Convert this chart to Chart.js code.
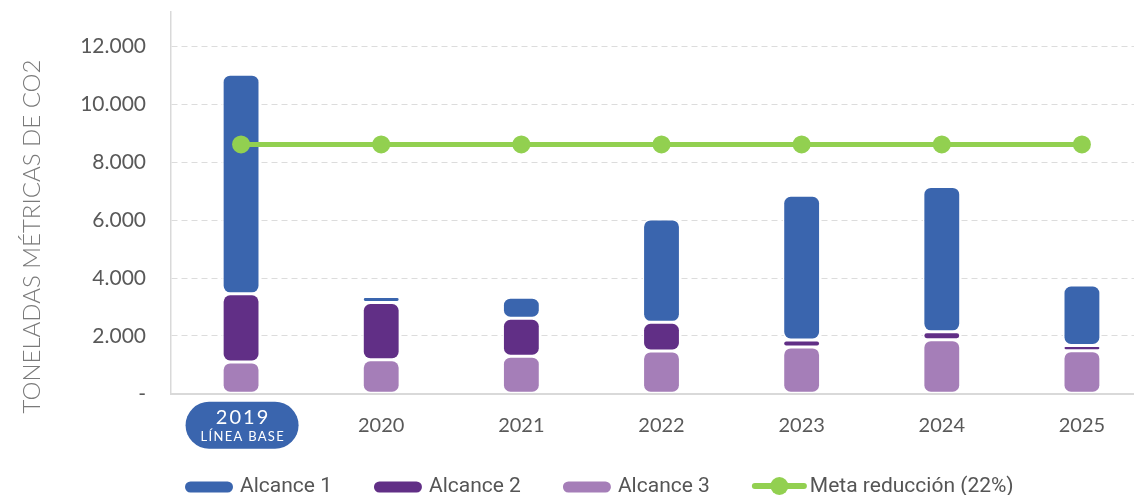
<!DOCTYPE html>
<html>
<head>
<meta charset="utf-8">
<script src="https://cdn.jsdelivr.net/npm/chart.js@4"></script>
<style>
html,body{margin:0;padding:0;overflow:hidden;background:#fff}
#wrap{position:relative;width:1161px;height:495px}
</style>
</head>
<body>
<div id="wrap"><canvas id="c"></canvas></div>
<script>
const categories = ['2019','2020','2021','2022','2023','2024','2025'];
const alcance1 = [7595, 205, 730, 3575, 5000, 5030, 2090];
const alcance2 = [2355, 1980, 1310, 990, 240, 270, 180];
const alcance3 = [1100, 1175, 1300, 1480, 1620, 1870, 1490];
const metaReduccion = [8620, 8620, 8620, 8620, 8620, 8620, 8620];
const yTickValues = [0, 2000, 4000, 6000, 8000, 10000, 12000];
const seriesLabels = ['Alcance 1', 'Alcance 2', 'Alcance 3', 'Meta reducción (22%)'];
const baseYearLabel = 'LÍNEA BASE';
const yTitle = 'TONELADAS MÉTRICAS DE CO2';

const COLORS = { a1: '#3A65AE', a2: '#612F86', a3: '#A57EB8', meta: '#92D050' };

// floating ranges built from the series arrays (each segment rounded on its own)
const a3Range = alcance3.map(v => [0, v]);
const a2Range = alcance2.map((v, i) => [alcance3[i], alcance3[i] + v]);
const a1Range = alcance1.map((v, i) => [alcance3[i] + alcance2[i], alcance3[i] + alcance2[i] + v]);

const barCommon = {
  type: 'bar', grouped: false, borderSkipped: false, borderRadius: 8,
  borderWidth: 1.5, borderColor: '#ffffff', categoryPercentage: 0.27, barPercentage: 1, order: 1
};

const fmt = v => v === 0 ? '-' : String(v).replace(/\B(?=(\d{3})+(?!\d))/g, '.');

const decor = {
  id: 'decor',
  afterDraw(chart) {
    const ctx = chart.ctx;
    const xs = chart.scales.x;
    const ca = chart.chartArea;
    ctx.save();
    // base-year pill label
    const cx = xs.getPixelForTick(0) + 1;
    const cy = ca.bottom + 31.5, w = 113, h = 47;
    ctx.fillStyle = COLORS.a1;
    ctx.beginPath(); ctx.roundRect(cx - w / 2, cy - h / 2, w, h, h / 2); ctx.fill();
    ctx.fillStyle = '#ffffff'; ctx.textAlign = 'center'; ctx.textBaseline = 'middle';
    ctx.letterSpacing = '2px';
    ctx.font = '400 20px Lato';
    ctx.fillText(categories[0], cx + 1, cy - 8);
    ctx.letterSpacing = '1.3px';
    ctx.font = '400 13px Lato';
    ctx.fillText(baseYearLabel, cx + 0.7, cy + 12);
    ctx.letterSpacing = '0px';
    ctx.restore();

    // y axis title
    ctx.save();
    ctx.translate(32, 236.5);
    ctx.rotate(-Math.PI / 2);
    ctx.font = '300 24px Lato';
    ctx.fillStyle = '#7A7A7A';
    ctx.textAlign = 'center'; ctx.textBaseline = 'middle';
    ctx.fillText(yTitle, 0, 0);
    ctx.restore();

    // legend
    ctx.save();
    let lx = 185; const ly = 487;
    ctx.font = '400 21px Roboto';
    ctx.textAlign = 'left'; ctx.textBaseline = 'middle';
    chart.data.datasets.forEach(ds => {
      let sw, gap;
      if (ds.type === 'line') {
        sw = 55; gap = 3;
        ctx.strokeStyle = ds.borderColor; ctx.lineWidth = 6; ctx.lineCap = 'round';
        ctx.beginPath(); ctx.moveTo(lx + 3, ly - 1); ctx.lineTo(lx + sw - 3, ly - 1); ctx.stroke();
        ctx.fillStyle = ds.pointBackgroundColor;
        ctx.beginPath(); ctx.arc(lx + sw / 2, ly - 1, 9, 0, Math.PI * 2); ctx.fill();
      } else {
        sw = 48; gap = 7;
        ctx.fillStyle = ds.backgroundColor;
        ctx.beginPath(); ctx.roundRect(lx, ly - 5.5, sw, 11, 5.5); ctx.fill();
      }
      ctx.fillStyle = '#555555';
      ctx.fillText(ds.label, lx + sw + gap, ly);
      lx += sw + gap + ctx.measureText(ds.label).width + 42;
    });
    ctx.restore();
  }
};

Chart.defaults.font.family = 'Lato';

new Chart(document.getElementById('c'), {
  type: 'bar',
  data: {
    labels: categories,
    datasets: [
      Object.assign({ label: seriesLabels[0], data: a1Range, backgroundColor: COLORS.a1 }, barCommon),
      Object.assign({ label: seriesLabels[1], data: a2Range, backgroundColor: COLORS.a2 }, barCommon),
      Object.assign({ label: seriesLabels[2], data: a3Range, backgroundColor: COLORS.a3 }, barCommon),
      {
        type: 'line', label: seriesLabels[3], data: metaReduccion,
        borderColor: COLORS.meta, backgroundColor: COLORS.meta, borderWidth: 5,
        pointRadius: 9, pointHoverRadius: 9, pointBackgroundColor: COLORS.meta, pointBorderWidth: 0,
        tension: 0, order: 0
      }
    ]
  },
  options: {
    responsive: true, maintainAspectRatio: false, animation: false,
    layout: { padding: { top: 12, left: 0, right: 0, bottom: 0 } },
    plugins: { legend: { display: false }, tooltip: { enabled: false } },
    scales: {
      x: {
        grid: { display: false },
        border: { display: true, color: '#D9D9D9', width: 2 },
        ticks: {
          color: '#595959', font: { size: 20, family: 'Lato' }, padding: 12,
          callback: (v, i) => i === 0 ? '' : categories[i]
        },
        afterFit: s => { s.height = 101.25; s.paddingLeft = 0; s.paddingRight = 0; }
      },
      y: {
        min: 0, max: 13200,
        grid: { color: '#DCDCDC', lineWidth: 1, drawTicks: false },
        border: { display: true, color: '#D9D9D9', width: 1.5, dash: [6, 4] },
        ticks: {
          color: '#595959', font: { size: 21, family: 'Lato' }, padding: 25, stepSize: 2000,
          callback: v => fmt(v)
        },
        afterBuildTicks: s => { s.ticks = yTickValues.map(v => ({ value: v })); },
        afterFit: s => { s.width = 171; s.paddingTop = 0; s.paddingBottom = 0; }
      }
    }
  },
  plugins: [decor]
});
</script>
</body>
</html>
